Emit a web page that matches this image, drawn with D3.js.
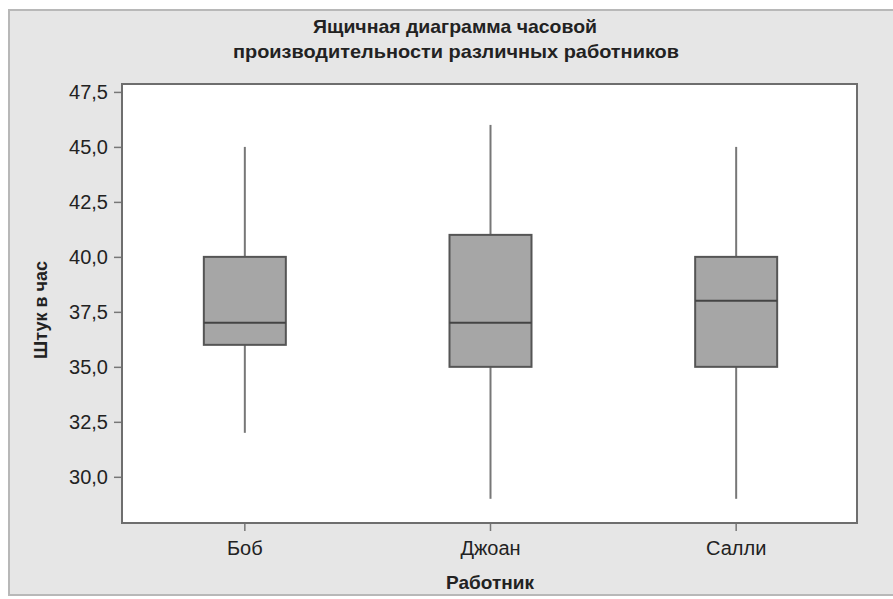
<!DOCTYPE html>
<html>
<head>
<meta charset="utf-8">
<script src="https://cdn.jsdelivr.net/npm/d3@7"></script>
<style>
  body { margin: 0; background: #fff; }
  svg { display: block; }
</style>
</head>
<body>
<svg id="chart"></svg>
<script>
// worker boxplot values
const workers = ["Боб", "Джоан", "Салли"];
const whiskLow = [32, 29, 29];
const q1 = [36, 35, 35];
const median = [37, 37, 38];
const q3 = [40, 41, 40];
const whiskHigh = [45, 46, 45];
const yTicks = [30, 32.5, 35, 37.5, 40, 42.5, 45, 47.5];

const W = 893, H = 599;
const plot = {left: 122, right: 857, top: 84, bottom: 523};
const font = "Liberation Sans, Arial, sans-serif";

const svg = d3.select("#chart")
    .attr("width", W)
    .attr("height", H);

// grey frame
svg.append("rect")
    .attr("x", 9).attr("y", 10)
    .attr("width", W - 6).attr("height", H - 14)
    .attr("fill", "#e6e6e6")
    .attr("stroke", "#b8b8b8")
    .attr("stroke-width", 2);

const x = d3.scaleBand()
    .domain(workers)
    .range([plot.left, plot.right + 2])
    .padding(0);

const y = d3.scaleLinear()
    .domain([27.9, 47.86])
    .range([plot.bottom, plot.top]);

// plot area
svg.append("rect")
    .attr("x", plot.left).attr("y", plot.top)
    .attr("width", plot.right - plot.left)
    .attr("height", plot.bottom - plot.top)
    .attr("fill", "#fff")
    .attr("stroke", "#6e6e6e")
    .attr("stroke-width", 2);

const fmt = d => d.toFixed(1).replace(".", ",");

const yAxis = svg.append("g")
    .attr("transform", `translate(${plot.left - 1},0)`)
    .call(d3.axisLeft(y).tickValues(yTicks).tickFormat(fmt).tickSize(7).tickPadding(6));
yAxis.select(".domain").remove();
yAxis.selectAll("line").attr("stroke", "#777").attr("stroke-width", 1.5);
yAxis.selectAll("text")
    .attr("font-family", font)
    .attr("font-size", 20)
    .attr("fill", "#222");

const xAxis = svg.append("g")
    .attr("transform", `translate(0,${plot.bottom + 1})`)
    .call(d3.axisBottom(x).tickSize(7).tickPadding(10));
xAxis.select(".domain").remove();
xAxis.selectAll("line").attr("stroke", "#777").attr("stroke-width", 1.5);
xAxis.selectAll("text")
    .attr("font-family", font)
    .attr("font-size", 20)
    .attr("fill", "#222");

// boxes
const boxW = 82;
const g = svg.append("g");
workers.forEach((w, i) => {
  const cx = x(w) + x.bandwidth() / 2;
  g.append("line")
      .attr("x1", cx).attr("x2", cx)
      .attr("y1", y(whiskHigh[i])).attr("y2", y(q3[i]))
      .attr("stroke", "#777").attr("stroke-width", 2);
  g.append("line")
      .attr("x1", cx).attr("x2", cx)
      .attr("y1", y(q1[i])).attr("y2", y(whiskLow[i]))
      .attr("stroke", "#777").attr("stroke-width", 2);
  g.append("rect")
      .attr("x", cx - boxW / 2)
      .attr("y", y(q3[i]))
      .attr("width", boxW)
      .attr("height", y(q1[i]) - y(q3[i]))
      .attr("fill", "#a6a6a6")
      .attr("stroke", "#555")
      .attr("stroke-width", 2);
  g.append("line")
      .attr("x1", cx - boxW / 2).attr("x2", cx + boxW / 2)
      .attr("y1", y(median[i])).attr("y2", y(median[i]))
      .attr("stroke", "#444").attr("stroke-width", 2);
});

// titles
const title = svg.append("text")
    .attr("text-anchor", "middle")
    .attr("font-family", font)
    .attr("font-weight", "bold")
    .attr("font-size", 19)
    .attr("fill", "#222");
title.append("tspan").attr("x", 455).attr("y", 33)
    .attr("textLength", 284).attr("lengthAdjust", "spacingAndGlyphs")
    .text("Ящичная диаграмма часовой");
title.append("tspan").attr("x", 456).attr("y", 58)
    .attr("textLength", 446).attr("lengthAdjust", "spacingAndGlyphs")
    .text("производительности различных работников");

svg.append("text")
    .attr("x", 490).attr("y", 589)
    .attr("text-anchor", "middle")
    .attr("font-family", font)
    .attr("font-weight", "bold")
    .attr("font-size", 19)
    .attr("fill", "#222")
    .text("Работник");

svg.append("text")
    .attr("transform", "translate(47,310) rotate(-90)")
    .attr("text-anchor", "middle")
    .attr("font-family", font)
    .attr("font-weight", "bold")
    .attr("font-size", 18)
    .attr("fill", "#222")
    .text("Штук в час");
</script>
</body>
</html>
